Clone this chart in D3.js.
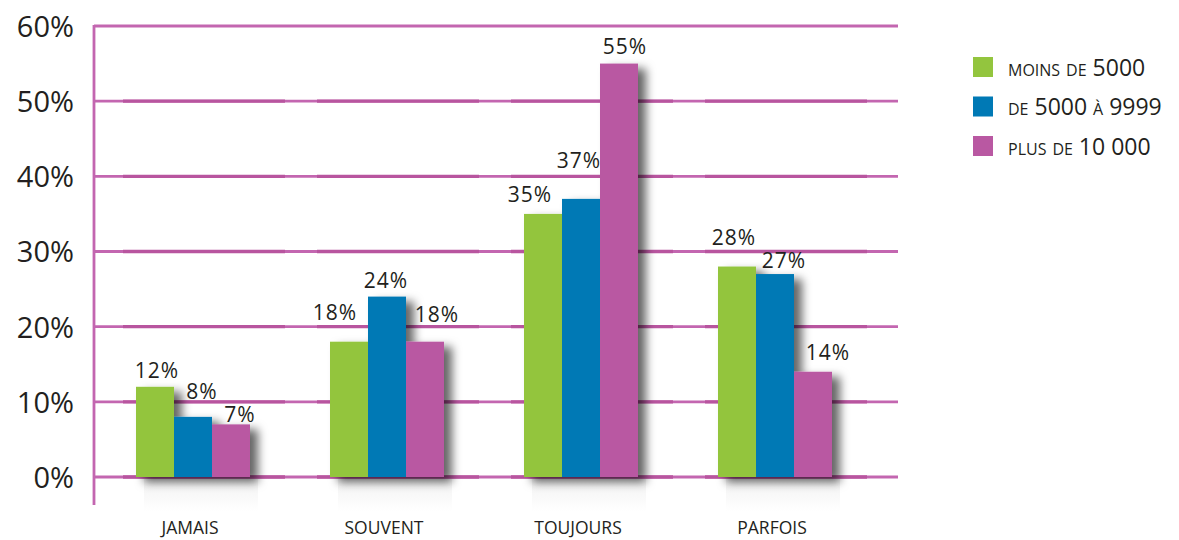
<!DOCTYPE html>
<html>
<head>
<meta charset="utf-8">
<script src="https://cdn.jsdelivr.net/npm/d3@7"></script>
<style>
  html, body { margin: 0; padding: 0; background: #fff; }
  svg { display: block; }
  text { font-family: "Open Sans", "Lato", sans-serif; fill: #231f20; }
</style>
</head>
<body>
<svg id="chart" width="1179" height="540"></svg>
<script>
// Categories, series and values (percent)
const categories = ["JAMAIS", "SOUVENT", "TOUJOURS", "PARFOIS"];
const seriesNames = ["moins de 5000", "de 5000 à 9999", "plus de 10 000"];
const moinsDe5000 = [12, 18, 35, 28];
const de5000a9999 = [8, 24, 37, 27];
const plusDe10000 = [7, 18, 55, 14];
const yTicks = [0, 10, 20, 30, 40, 50, 60];

const seriesValues = [moinsDe5000, de5000a9999, plusDe10000];
const colors = ["#93c53e", "#0079b5", "#b958a2"];

// Hand-placed nudges for the value labels [category][series] -> [dx, dy]
const labelNudge = [
  [[2, -9], [9, -18], [9, -2]],
  [[-14, -22], [-1, -9], [12, -20]],
  [[-13, -12], [-2, -31], [6, -10]],
  [[-3, -22], [9, -6], [15, -12]]
];

const svg = d3.select("#chart");
const gridColor = "#c366b0";
const gridDark = "#b8559f";

const y = d3.scaleLinear().domain([0, 60]).range([477, 26]);
const groupWidth = 114, groupStep = 194;
const x0 = d3.scaleBand().domain(categories).range([96, 872])
  .paddingInner(1 - groupWidth / groupStep).paddingOuter((1 - groupWidth / groupStep) / 2);
const x1 = d3.scaleBand().domain(d3.range(seriesNames.length)).range([0, x0.bandwidth()]);

// Filters and gradients
const defs = svg.append("defs");
const f = defs.append("filter").attr("id", "barShadow")
  .attr("x", "-20%").attr("y", "-20%").attr("width", "150%").attr("height", "150%");
f.append("feDropShadow").attr("dx", 8).attr("dy", 5).attr("stdDeviation", 5)
  .attr("flood-color", "#000").attr("flood-opacity", 0.6);

const refl = defs.append("linearGradient").attr("id", "reflect")
  .attr("x1", 0).attr("y1", 0).attr("x2", 0).attr("y2", 1);
refl.append("stop").attr("offset", "0%").attr("stop-color", "#a0a0a0").attr("stop-opacity", 0.14);
refl.append("stop").attr("offset", "100%").attr("stop-color", "#a0a0a0").attr("stop-opacity", 0);

// Horizontal gridlines across the plot
const grid = svg.append("g");
grid.selectAll("line.grid").data(yTicks).join("line")
  .attr("class", "grid")
  .attr("x1", 94).attr("x2", 898)
  .attr("y1", d => y(d)).attr("y2", d => y(d))
  .attr("stroke", gridColor).attr("stroke-width", 2.8);

// Slightly heavier gridline segments behind each group
categories.forEach(c => {
  grid.selectAll(null).data(yTicks.slice(0, 6)).join("line")
    .attr("x1", x0(c) - 13).attr("x2", x0(c) + x0.bandwidth() + 35)
    .attr("y1", d => y(d)).attr("y2", d => y(d))
    .attr("stroke", gridDark).attr("stroke-width", 3.4);
});

// Vertical axis line
svg.append("line")
  .attr("x1", 94).attr("x2", 94).attr("y1", y(60) - 1).attr("y2", 505)
  .attr("stroke", gridColor).attr("stroke-width", 2.8);

// Y axis tick labels
const yAxis = d3.axisLeft(y).tickValues(yTicks).tickFormat(d => d + "%").tickSize(0).tickPadding(0);
const ya = svg.append("g").attr("transform", "translate(74,0)").call(yAxis);
ya.select(".domain").remove();
ya.selectAll("text")
  .attr("font-size", 29).attr("font-family", "'Open Sans', sans-serif")
  .attr("fill", "#231f20").attr("dy", "0.36em");

// Faint reflection under the baseline
const groups = svg.append("g").selectAll("g.cat").data(categories).join("g")
  .attr("class", "cat")
  .attr("transform", c => `translate(${x0(c)},0)`);

groups.selectAll("rect.refl").data((c, i) => seriesValues.map((s, j) => ({ j, v: s[i] })))
  .join("rect").attr("class", "refl")
  .attr("x", d => x1(d.j) + 8).attr("width", x1.bandwidth())
  .attr("y", y(0) + 2).attr("height", 32)
  .attr("fill", "url(#reflect)");

// Bars, each group with a soft drop shadow
const barGroups = groups.append("g").attr("filter", "url(#barShadow)");
barGroups.selectAll("rect.bar").data((c, i) => seriesValues.map((s, j) => ({ j, v: s[i] })))
  .join("rect").attr("class", "bar")
  .attr("x", d => x1(d.j)).attr("width", x1.bandwidth())
  .attr("y", d => y(d.v)).attr("height", d => y(0) - y(d.v))
  .attr("fill", d => colors[d.j]);

// Value labels
groups.each(function (c, i) {
  d3.select(this).selectAll("text.val").data(seriesValues.map((s, j) => ({ j, v: s[i] })))
    .join("text").attr("class", "val")
    .attr("x", d => x1(d.j) + x1.bandwidth() / 2 + labelNudge[i][d.j][0])
    .attr("y", d => y(d.v) + labelNudge[i][d.j][1])
    .attr("text-anchor", "middle")
    .attr("font-size", 21).attr("letter-spacing", 1)
    .text(d => d.v + "%");
});

// Category labels
svg.append("g").selectAll("text.cat").data(categories).join("text")
  .attr("x", c => x0(c) + x0.bandwidth() / 2 - 3)
  .attr("y", 534)
  .attr("text-anchor", "middle")
  .attr("font-size", 17.5)
  .text(c => c);

// Legend
const legend = svg.append("g").attr("transform", "translate(973,57)");
const li = legend.selectAll("g").data(seriesNames).join("g")
  .attr("transform", (d, i) => `translate(0,${i * 39.5})`);
li.append("rect").attr("width", 20).attr("height", 20).attr("fill", (d, i) => colors[i]);
li.append("text").attr("x", 35).attr("y", 18.5)
  .attr("font-size", 23).style("font-variant", "small-caps")
  .text(d => d);
</script>
</body>
</html>
